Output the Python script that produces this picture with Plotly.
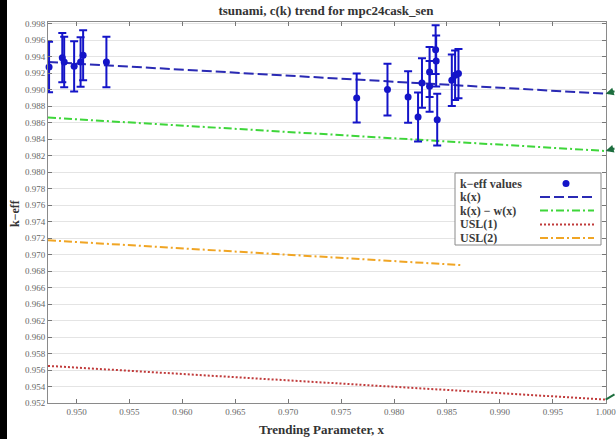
import plotly.graph_objects as go

# Trending parameter and k-eff for each experiment
x_vals = [0.94740, 0.94865, 0.94883, 0.94977, 0.95038, 0.95062, 0.95282,
          0.97647, 0.97938, 0.98133, 0.98227, 0.98264, 0.98336, 0.98336,
          0.98393, 0.98398, 0.98408, 0.98546, 0.98577, 0.98609]
keff_vals = [0.99274, 0.99388, 0.99335, 0.99282, 0.99335, 0.99416, 0.99335,
             0.98898, 0.99000, 0.98910, 0.98668, 0.99080, 0.99213, 0.99040,
             0.99485, 0.99347, 0.98636, 0.99113, 0.99173, 0.99194]
keff_sigma = [0.00305, 0.00300, 0.00307, 0.00305, 0.00300, 0.00303, 0.00307,
              0.00297, 0.00313, 0.00313, 0.00297, 0.00300, 0.00303, 0.00307,
              0.00297, 0.00309, 0.00313, 0.00313, 0.00300, 0.00300]

# Trend curves
trend_x = [0.9473, 1.0000]
k_fit = [0.99335, 0.98950]
k_minus_w = [0.98661, 0.98256]
usl1 = [0.95650, 0.95242]
usl2_x = [0.9473, 0.9863]
usl2 = [0.97173, 0.96872]

y_ticks = [round(0.952 + 0.002 * i, 3) for i in range(24)]
x_ticks = [round(0.950 + 0.005 * i, 3) for i in range(11)]

SERIF = "Liberation Serif"
BLUE = "#1414c8"
NAVY = "#2a2ab4"
GREEN = "#3ed63a"
RED = "#c03a3a"
ORANGE = "#f0a524"
ARROW = "#1d6e3e"

fig = go.Figure()

fig.add_trace(go.Scatter(
    x=trend_x, y=k_fit, mode="lines", name="k(x)",
    line=dict(color=NAVY, width=2, dash="10px,4px"), showlegend=False))
fig.add_trace(go.Scatter(
    x=trend_x, y=k_minus_w, mode="lines", name="k(x) - w(x)",
    line=dict(color=GREEN, width=2, dash="8px,3px,2px,3px"), showlegend=False))
fig.add_trace(go.Scatter(
    x=trend_x, y=usl1, mode="lines", name="USL(1)",
    line=dict(color=RED, width=2, dash="2px,2px"), showlegend=False))
fig.add_trace(go.Scatter(
    x=usl2_x, y=usl2, mode="lines", name="USL(2)",
    line=dict(color=ORANGE, width=2, dash="8px,3px,2px,3px"), showlegend=False))
fig.add_trace(go.Scatter(
    x=x_vals, y=keff_vals, mode="markers", name="k-eff values",
    marker=dict(color=BLUE, size=7),
    error_y=dict(type="data", array=keff_sigma, visible=True,
                 color=BLUE, thickness=2, width=4),
    cliponaxis=False, showlegend=False))

# Plot-area geometry in pixels (for the hand-placed legend)
L, R, T, B = 48, 10, 22, 36
W, H = 616, 439
PW, PH = W - L - R, H - T - B


def px(xp):
    return (xp - L) / PW


def py(yp):
    return (H - B - yp) / PH


shapes = []
annotations = []

# Legend box
shapes.append(dict(type="rect", xref="paper", yref="paper",
                   x0=px(455), x1=px(601), y0=py(245), y1=py(173),
                   line=dict(color="#8a8a8a", width=1), fillcolor="white",
                   layer="above"))

legend_rows = [
    ("k\u2212eff values", None, None),
    ("k(x)", NAVY, "10px,4px"),
    ("k(x) \u2212 w(x)", GREEN, "8px,3px,2px,3px"),
    ("USL(1)", RED, "2px,2px"),
    ("USL(2)", ORANGE, "8px,3px,2px,3px"),
]
row_y = [183.5, 197.0, 210.5, 224.5, 238.0]
for (label, color, dash), yy in zip(legend_rows, row_y):
    annotations.append(dict(
        text="<b>" + label + "</b>", xref="paper", yref="paper",
        x=px(458), y=py(yy), xanchor="left", yanchor="middle",
        showarrow=False, font=dict(family=SERIF, size=12, color="#3a3a3a")))
    if color is None:
        shapes.append(dict(type="circle", xref="paper", yref="paper",
                           x0=px(562.5), x1=px(569.5), y0=py(yy + 3.5), y1=py(yy - 3.5),
                           fillcolor=BLUE, line=dict(color=BLUE, width=0),
                           layer="above"))
    else:
        shapes.append(dict(type="line", xref="paper", yref="paper",
                           x0=px(540), x1=px(594), y0=py(yy), y1=py(yy),
                           line=dict(color=color, width=2, dash=dash),
                           layer="above"))

# Left black border strip
shapes.append(dict(type="rect", xref="paper", yref="paper",
                   x0=px(0), x1=px(7), y0=py(H), y1=py(0),
                   fillcolor="black", line=dict(width=0), layer="above"))

# Pointer arrows at the right edge
annotations.append(dict(x=1.0, y=k_fit[-1], xref="x", yref="y", text="",
                        showarrow=True, ax=13, ay=-3, arrowhead=2, arrowsize=0.8,
                        arrowwidth=2, arrowcolor=ARROW))
annotations.append(dict(x=1.0, y=k_minus_w[-1], xref="x", yref="y", text="",
                        showarrow=True, ax=13, ay=-3, arrowhead=2, arrowsize=0.8,
                        arrowwidth=2, arrowcolor=ARROW))
annotations.append(dict(x=1.0, y=usl1[-1], xref="x", yref="y", text="",
                        showarrow=True, ax=14, ay=-6, arrowhead=0,
                        arrowwidth=2, arrowcolor=ARROW))

# Axis titles
annotations.append(dict(text="<b>Trending Parameter, x</b>", xref="paper", yref="paper",
                        x=px(322), y=py(429), xanchor="center", yanchor="middle",
                        showarrow=False, font=dict(family=SERIF, size=13, color="#333")))
annotations.append(dict(text="<b>k\u2212eff</b>", xref="paper", yref="paper",
                        x=px(15), y=py(213), xanchor="center", yanchor="middle",
                        textangle=-90, showarrow=False,
                        font=dict(family=SERIF, size=12, color="#333")))

fig.update_layout(
    width=W, height=H,
    margin=dict(l=L, r=R, t=T, b=B, autoexpand=False),
    paper_bgcolor="white", plot_bgcolor="white",
    title=dict(text="tsunami, c(k) trend for mpc24cask_sen",
               x=px(326), xref="paper", y=1 - 10 / H, yref="container",
               xanchor="center", yanchor="middle",
               font=dict(family=SERIF, size=13, color="#333", weight="bold")),
    shapes=shapes, annotations=annotations,
    showlegend=False,
)

fig.update_xaxes(
    range=[0.9473, 1.00003], tickvals=x_ticks,
    ticktext=[f"{v:.3f}" for v in x_ticks],
    ticks="inside", ticklen=4, tickcolor="#777",
    ticklabeloverflow="allow", automargin=False,
    showgrid=False, zeroline=False,
    showline=True, linecolor="#8a8a8a", linewidth=1, mirror="ticks",
    tickfont=dict(family=SERIF, size=9, color="#666"),
)
fig.update_yaxes(
    range=[0.952, 0.9982], tickvals=y_ticks,
    ticktext=[f"{v:.3f}" for v in y_ticks],
    ticks="inside", ticklen=4, tickcolor="#777", automargin=False,
    showgrid=True, gridcolor="#e4e4e4", gridwidth=1, zeroline=False,
    showline=True, linecolor="#8a8a8a", linewidth=1, mirror="ticks",
    tickfont=dict(family=SERIF, size=9, color="#666"),
)

fig.write_html("out.html")
